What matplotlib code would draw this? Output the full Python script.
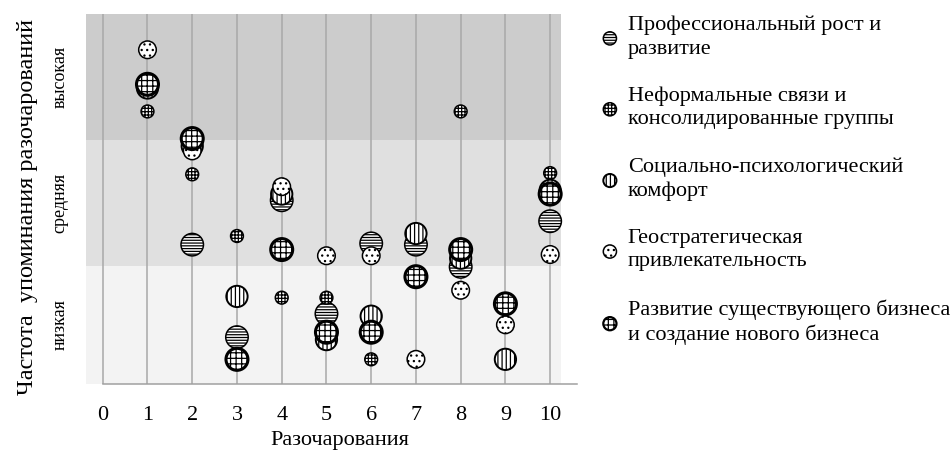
import numpy as np
import matplotlib
matplotlib.use("Agg")
import matplotlib.pyplot as plt
import matplotlib.transforms as mtransforms

plt.rcParams['font.family'] = ['Liberation Serif', 'DejaVu Serif']
plt.rcParams['hatch.linewidth'] = 0.9

# x positions (number of disappointments) and y positions (mention frequency, 0..3)
x_prof = [2, 3, 4, 5, 6, 7, 8, 10]
y_prof = [1.13, 0.38, 1.49, 0.57, 1.14, 1.13, 0.95, 1.32]

x_neform = [1, 2, 3, 4, 5, 6, 8, 10]
y_neform = [2.21, 1.70, 1.20, 0.70, 0.70, 0.20, 2.21, 1.71]

x_social = [1, 2, 3, 4, 5, 6, 7, 8, 9, 10]
y_social = [2.40, 1.93, 0.71, 1.54, 0.36, 0.55, 1.22, 1.02, 0.20, 1.57]

x_geo = [1, 2, 4, 5, 6, 7, 8, 9, 10]
y_geo = [2.71, 1.89, 1.60, 1.04, 1.04, 0.20, 0.76, 0.48, 1.05]

x_biz = [1, 2, 3, 4, 5, 6, 7, 8, 9, 10]
y_biz = [2.43, 1.99, 0.20, 1.09, 0.42, 0.42, 0.87, 1.09, 0.65, 1.54]

labels = ["Профессиональный рост и\nразвитие",
          "Неформальные связи и\nконсолидированные группы",
          "Социально-психологический\nкомфорт",
          "Геостратегическая\nпривлекательность",
          "Развитие существующего бизнеса\nи создание нового бизнеса"]

band_edges = [0, 0.96, 1.98, 3.0]
band_names = ["низкая", "средняя", "высокая"]
band_colors = ["#f3f3f3", "#e0e0e0", "#cccccc"]
xticks = list(range(0, 11))

fig = plt.figure(figsize=(9.52, 4.53), dpi=100)
ax = fig.add_axes([0.0903, 0.1523, 0.5158, 0.8168])

# background bands
for i in range(3):
    ax.axhspan(band_edges[i], band_edges[i + 1], xmin=0, xmax=(10.24 + 0.375) / 10.975,
               color=band_colors[i], zorder=0, lw=0)

# vertical lines
ax.vlines(xticks, 0, 3, colors="#a8a8a8", lw=1.1, zorder=1)

# series: (x, y, size, hatch, edge width)
series = [
    (x_prof, y_prof, 262, "------", 1.1),
    (x_neform, y_neform, 85, "+++++", 1.1),
    (x_social, y_social, 235, "||||", 1.4),
    (x_geo, y_geo, 160, "...", 1.1),
    (x_biz, y_biz, 250, "+++", 2.2),
]
handles = []
for (xs, ys, s, h, lw), lab in zip(series, labels):
    ax.scatter(xs, ys, s=s, facecolor="white", edgecolor="black", hatch=h,
               linewidths=lw, zorder=3)
    handles.append(ax.scatter([], [], s=90, facecolor="white", edgecolor="black",
                              hatch=h, linewidths=min(lw, 1.6), label=lab))

ax.set_xlim(-0.375, 10.6)
ax.set_ylim(0, 3)
for sp in ["top", "right", "left"]:
    ax.spines[sp].set_visible(False)
ax.spines["bottom"].set_bounds(0, 10.6)
ax.spines["bottom"].set_color("#a0a0a0")
ax.spines["bottom"].set_linewidth(1.1)
ax.set_xticks(xticks)
ax.tick_params(axis="x", length=0, pad=15.5, labelsize=16)
ax.set_yticks([])

ax.text(0.517, -0.128, "Разочарования", transform=ax.transAxes,
        ha="center", va="top", fontsize=16)

trans = mtransforms.blended_transform_factory(ax.transAxes, ax.transData)
for i, name in enumerate(band_names):
    ax.text(-0.053, (band_edges[i] + band_edges[i + 1]) / 2, name, transform=trans,
            rotation=90, ha="center", va="center", fontsize=13)
ax.text(-0.120, 0.478, "Частота  упоминания разочарований", transform=ax.transAxes,
        rotation=90, ha="center", va="center", fontsize=17.5)

leg = fig.legend(handles=handles, loc="upper left", bbox_to_anchor=(601 / 952, 0.965),
                 bbox_transform=fig.transFigure, frameon=False, fontsize=16,
                 borderpad=0, borderaxespad=0, handlelength=0.8, handletextpad=0.4,
                 labelspacing=1.27, scatterpoints=1)
for t in leg.get_texts():
    t.set_linespacing(1.3)

fig.savefig("out.png", dpi=100)
